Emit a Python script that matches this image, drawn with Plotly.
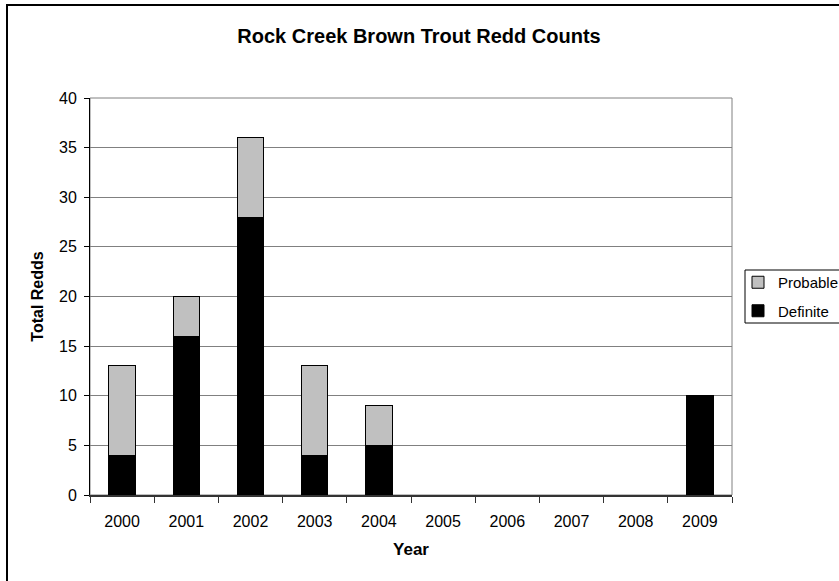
import plotly.graph_objects as go

years = ["2000", "2001", "2002", "2003", "2004", "2005", "2006", "2007", "2008", "2009"]
definite = [4, 16, 28, 4, 5, 0, 0, 0, 0, 10]
probable = [9, 4, 8, 9, 4, 0, 0, 0, 0, 0]

FONT = "Liberation Sans, Arial, sans-serif"
W, H = 839, 581
L, R, T, B = 90, 732, 98, 495

fig = go.Figure()
fig.add_bar(x=years, y=definite, name="Definite", legendgroup="d", legendrank=2,
            marker=dict(color="#000000", line=dict(color="#000000", width=1)))
fig.add_bar(x=years, y=probable, name="Probable", legendgroup="p", legendrank=1,
            marker=dict(color="#C0C0C0", line=dict(color="#000000", width=1)))

pw = R - L
ph = B - T

def px(x):
    return (x - L) / pw

def py(y):
    return (B - y) / ph

fig.update_layout(
    width=W, height=H,
    barmode="stack", bargap=0.59,
    paper_bgcolor="white", plot_bgcolor="white",
    margin=dict(l=L, r=W - R, t=T, b=H - B, pad=0, autoexpand=False),
    font=dict(family=FONT, size=16, color="black"),
    title=dict(text="<b>Rock Creek Brown Trout Redd Counts</b>",
               x=(419 - L) / pw, xref="paper", xanchor="center",
               y=1 - 36 / H, yanchor="middle",
               font=dict(family=FONT, size=20, color="black")),
    showlegend=True,
    legend=dict(x=px(738), xanchor="left", y=py(266), yanchor="top",
                traceorder="grouped", borderwidth=0,
                bgcolor="rgba(0,0,0,0)", font=dict(family=FONT, size=15),
                itemwidth=30, tracegroupgap=6),
    xaxis=dict(type="category", showline=True, linecolor="#333333", linewidth=2,
               ticks="outside", tickson="boundaries", ticklen=6, tickcolor="#333333",
               tickwidth=1, showgrid=False, tickfont=dict(size=16),
               ticklabelstandoff=11,
               title=dict(text="<b>Year</b>", font=dict(size=17), standoff=14)),
    yaxis=dict(range=[0, 40], dtick=5, showline=True, linecolor="black", linewidth=1,
               ticks="outside", ticklen=5, tickcolor="black", showgrid=True,
               gridcolor="#808080", gridwidth=1, zeroline=False, tickfont=dict(size=16),
               ticklabelstandoff=4,
               title=dict(text="<b>Total Redds</b>", font=dict(size=16), standoff=11)),
    shapes=[
        dict(type="rect", xref="paper", yref="paper", x0=0, x1=1, y0=0, y1=1,
             line=dict(color="#808080", width=1), layer="below"),
        dict(type="rect", xref="paper", yref="paper",
             x0=px(7), x1=px(860), y0=py(5), y1=py(600),
             line=dict(color="black", width=2), layer="below"),
        dict(type="rect", xref="paper", yref="paper",
             x0=px(745), x1=px(860), y0=py(270), y1=py(323),
             line=dict(color="black", width=1), fillcolor="white", layer="below"),
    ],
)

fig.write_html("out.html", config={"displayModeBar": False},
               post_script="document.body.style.margin='0px';")
